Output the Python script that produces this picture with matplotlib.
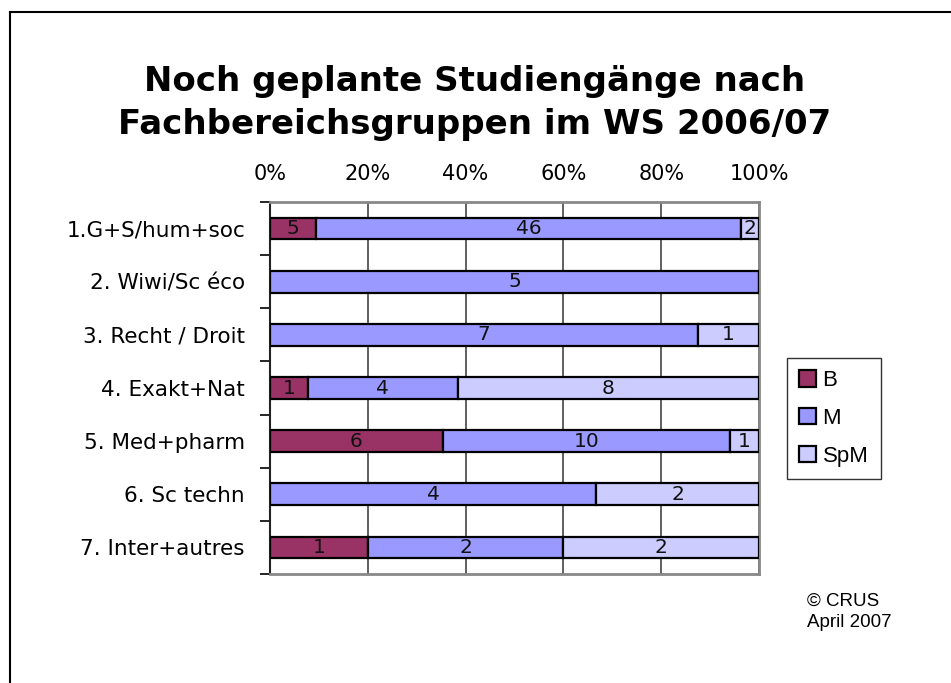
import matplotlib
matplotlib.use("Agg")
import matplotlib.pyplot as plt
from matplotlib.lines import Line2D
from matplotlib.ticker import FixedLocator, PercentFormatter
import numpy as np

# data
categories = ["1.G+S/hum+soc", "2. Wiwi/Sc éco", "3. Recht / Droit", "4. Exakt+Nat",
              "5. Med+pharm", "6. Sc techn", "7. Inter+autres"]
series_names = ["B", "M", "SpM"]
b_counts = [5, 0, 0, 1, 6, 0, 1]
m_counts = [46, 5, 7, 4, 10, 4, 2]
spm_counts = [2, 0, 1, 8, 1, 2, 2]
colors = ["#993366", "#9999FF", "#CCCCFF"]


def make_chart():
    """
    Stacked 100% horizontal bar chart
    """

    counts = np.array([b_counts, m_counts, spm_counts], dtype=float)
    totals = counts.sum(axis=0)
    shares = counts / totals * 100

    fig = plt.figure(figsize=(9.51, 6.83), dpi=100)
    ax = fig.add_axes([270 / 951, 1 - 574 / 683, 489 / 951, 372 / 683])

    y = np.arange(len(categories))
    left = np.zeros(len(categories))
    handles = []
    for i, name in enumerate(series_names):
        bars = ax.barh(y, shares[i], left=left, height=0.41, color=colors[i],
                       edgecolor="black", linewidth=1.6, label=name, zorder=3)
        handles.append(bars)
        for j in range(len(categories)):
            if counts[i][j] > 0:
                ax.text(left[j] + shares[i][j] / 2, y[j], f"{int(counts[i][j])}",
                        ha="center", va="center", fontsize=14.5, color="#111111",
                        zorder=4)
        left += shares[i]

    ax.set_xlim(0, 100)
    ax.set_ylim(len(categories) - 0.5, -0.5)
    ax.xaxis.tick_top()
    ax.set_xticks(np.arange(0, 101, 20))
    ax.xaxis.set_major_formatter(PercentFormatter(decimals=0))
    ax.tick_params(axis="x", length=0, pad=13, labelsize=15)
    ax.set_yticks(y)
    ax.set_yticklabels(categories)
    ax.tick_params(axis="y", which="major", length=0, pad=18, labelsize=15.5)
    ax.yaxis.set_minor_locator(FixedLocator(np.arange(-0.5, len(categories), 1)))
    ax.tick_params(axis="y", which="minor", length=7, width=1.2, direction="out")
    ax.grid(axis="x", color="#444444", linewidth=1.2, zorder=0)

    for side in ["top", "right", "bottom"]:
        ax.spines[side].set_color("#888888")
        ax.spines[side].set_linewidth(2)
    ax.spines["left"].set_color("#222222")
    ax.spines["left"].set_linewidth(1.5)

    fig.text(0.499, 1 - 103 / 683, "Noch geplante Studiengänge nach\nFachbereichsgruppen im WS 2006/07",
             ha="center", va="center", fontsize=24.5, fontweight="bold", linespacing=1.4)

    leg = fig.legend(handles=handles, labels=series_names, loc="upper left",
                     bbox_to_anchor=(787 / 951, 1 - 358 / 683), borderaxespad=0,
                     frameon=True, fancybox=False, edgecolor="black", handlelength=0.75,
                     handleheight=0.75, handletextpad=0.3, labelspacing=0.75,
                     borderpad=0.55, prop={"family": "Liberation Sans", "size": 16})
    leg.get_frame().set_linewidth(1.0)

    fig.text(807 / 951, 1 - 612 / 683, "© CRUS\nApril 2007", ha="left", va="center",
             fontsize=13.5, family="Liberation Sans", linespacing=1.35)

    # slide frame
    fig.add_artist(Line2D([10 / 951, 1], [1 - 12 / 683, 1 - 12 / 683], color="black", linewidth=1.5))
    fig.add_artist(Line2D([10 / 951, 10 / 951], [0, 1 - 12 / 683], color="black", linewidth=1.5))

    fig.savefig("out.png", dpi=100)


if __name__ == '__main__':
    make_chart()
